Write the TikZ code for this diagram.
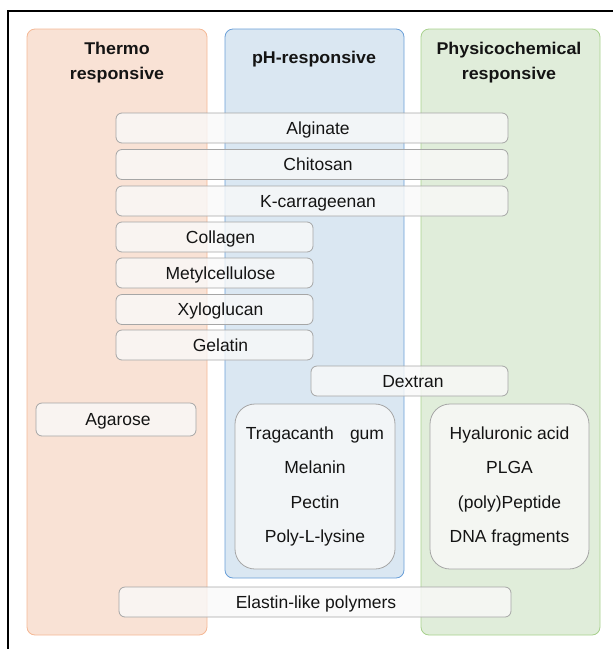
\documentclass[tikz,border=0pt]{standalone}
\usepackage{fontspec}
\setmainfont{Liberation Sans}
\newfontfamily\titlefont[FakeStretch=1.05]{Liberation Sans Bold}
\definecolor{thfill}{HTML}{F9E2D5}
\definecolor{thline}{HTML}{F5B895}
\definecolor{phfill}{HTML}{DAE7F2}
\definecolor{phline}{HTML}{6A9FD8}
\definecolor{gnfill}{HTML}{E0EDDA}
\definecolor{gnline}{HTML}{A8D18D}
\definecolor{barfill}{HTML}{F9F9F9}
\definecolor{barline}{HTML}{A6A6A6}
\definecolor{txt}{HTML}{141414}
\begin{document}
\begin{tikzpicture}[x=1pt,y=-1pt,
  col/.style={draw, rounded corners=8pt, line width=0.8pt, inner sep=0pt},
  title/.style={font=\titlefont\fontsize{17}{25}\selectfont, text=txt, align=center, inner sep=0pt},
  bar/.style={draw=barline, fill=barfill, fill opacity=0.8, text opacity=1, rounded corners=6pt,
    line width=0.8pt, inner sep=0pt, minimum height=30pt, text height=12.3pt, text depth=0pt,
    font=\fontsize{17.5}{20}\selectfont, text=txt},
  group/.style={draw=barline, fill=barfill, fill opacity=0.8, text opacity=1, rounded corners=20pt,
    line width=0.8pt, inner sep=0pt, minimum width=160pt, minimum height=165pt, align=center,
    font=\fontsize{17.5}{34.5}\selectfont, text=txt}]
\useasboundingbox (0,0) rectangle (613,649);
\draw[line width=1.2pt] (8,649) -- (8,11) -- (613,11);
% columns
\node[col, draw=thline, fill=thfill, minimum width=180pt, minimum height=606pt] (thermo) at (117,332) {};
\node[col, draw=phline, fill=phfill, minimum width=179pt, minimum height=549pt] (ph) at (314.5,303.5) {};
\node[col, draw=gnline, fill=gnfill, minimum width=179pt, minimum height=606pt] (phys) at (510.5,332) {};
% titles
\node[title] (tthermo) at (117,62.5) {Thermo\\responsive};
\node[title] (tph) at (314,59) {pH-responsive};
\node[title] (tphys) at (509,62.5) {Physicochemical\\responsive};
% bars
\node[bar, minimum width=392pt] (alg) at (312,128) {\hspace*{12pt}Alginate};
\node[bar, minimum width=392pt] (chi) at (312,164.5) {\hspace*{12pt}Chitosan};
\node[bar, minimum width=392pt] (kca) at (312,201) {\hspace*{12pt}K-carrageenan};
\node[bar, minimum width=197pt] (col) at (214.5,237) {\hspace*{12pt}Collagen};
\node[bar, minimum width=197pt] (met) at (214.5,273) {\hspace*{12pt}Metylcellulose};
\node[bar, minimum width=197pt] (xyl) at (214.5,309.5) {\hspace*{12pt}Xyloglucan};
\node[bar, minimum width=197pt] (gel) at (214.5,345) {\hspace*{12pt}Gelatin};
\node[bar, minimum width=197pt] (dex) at (409.5,381) {\hspace*{7pt}Dextran};
\node[bar, minimum width=160pt, minimum height=33pt] (aga) at (116,419.5) {\hspace*{4pt}Agarose};
\node[group] (phgroup) at (315,486.5) {Tragacanth\hspace{0.65em} gum\\Melanin\\Pectin\\Poly-L-lysine};
\node[group, minimum width=159pt] (physgroup) at (509.5,486.5) {Hyaluronic acid\\PLGA\\(poly)Peptide\\DNA fragments};
\node[bar, minimum width=392pt] (ela) at (315,602) {\hspace*{2pt}Elastin-like polymers};
\end{tikzpicture}
\end{document}
